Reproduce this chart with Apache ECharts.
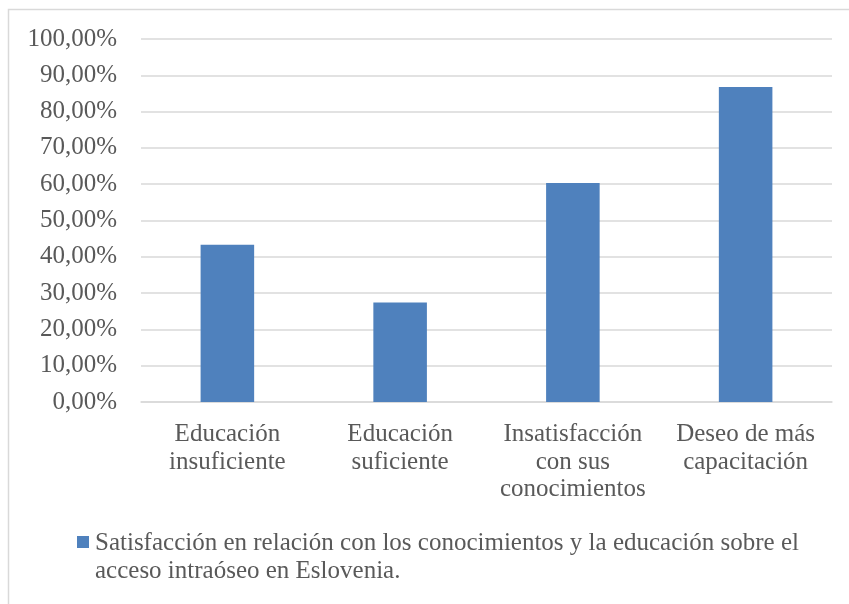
<!DOCTYPE html>
<html>
<head>
<meta charset="utf-8">
<script src="https://cdn.jsdelivr.net/npm/echarts@6/dist/echarts.min.js"></script>
<style>
  html, body { margin: 0; padding: 0; background: #fff; }
  #chart { width: 849px; height: 604px; }
</style>
</head>
<body>
<div id="chart"></div>
<script>
// Categories and values (percent)
const categories = [
  'Educación\ninsuficiente',
  'Educación\nsuficiente',
  'Insatisfacción\ncon sus\nconocimientos',
  'Deseo de más\ncapacitación'
];
const values = [43.3, 27.4, 60.3, 86.8];
const seriesName = 'Satisfacción en relación con los conocimientos y la educación sobre el acceso intraóseo en Eslovenia.';
const legendText = 'Satisfacción en relación con los conocimientos y la educación sobre el\nacceso intraóseo en Eslovenia.';

const FONT = '"Liberation Serif", "DejaVu Serif", serif';
const TEXT = '#595959';

// Legend marker: square sitting level with the first line of the two-line entry
const LEGEND_ICON = 'path://M0,0h12v12h-12z M0,43h12';

const chart = echarts.init(document.getElementById('chart'), null, { renderer: 'canvas' });
chart.setOption({
  animation: false,
  backgroundColor: '#ffffff',
  graphic: [{
    type: 'rect',
    shape: { x: 8.5, y: 9.5, width: 900, height: 700 },
    style: { fill: 'none', stroke: '#d9d9d9', lineWidth: 1.5 },
    silent: true
  }],
  grid: { left: 141, right: 17, top: 39, bottom: 202, containLabel: false },
  legend: {
    left: 72,
    top: 525,
    itemWidth: 12,
    itemHeight: 43,
    itemGap: 4,
    icon: LEGEND_ICON,
    formatter: () => legendText,
    textStyle: { fontFamily: FONT, fontSize: 25, color: TEXT, lineHeight: 27.5, padding: [0, 0, 0, 1] },
    data: [seriesName]
  },
  xAxis: {
    type: 'category',
    data: categories,
    axisLine: { show: true, lineStyle: { color: '#d9d9d9', width: 1.5 } },
    axisTick: { show: false },
    axisLabel: {
      fontFamily: FONT, fontSize: 25, color: TEXT,
      lineHeight: 27.5, margin: 19, interval: 0
    }
  },
  yAxis: {
    type: 'value',
    min: 0, max: 100, interval: 10,
    axisLine: { show: false },
    axisTick: { show: false },
    splitLine: { lineStyle: { color: '#d9d9d9', width: 1.5 } },
    axisLabel: {
      fontFamily: FONT, fontSize: 25, color: TEXT, margin: 24,
      formatter: v => v.toFixed(2).replace('.', ',') + '%'
    }
  },
  series: [{
    name: seriesName,
    type: 'bar',
    data: values,
    barWidth: '31%',
    itemStyle: { color: '#4f81bd' }
  }]
});
</script>
</body>
</html>
